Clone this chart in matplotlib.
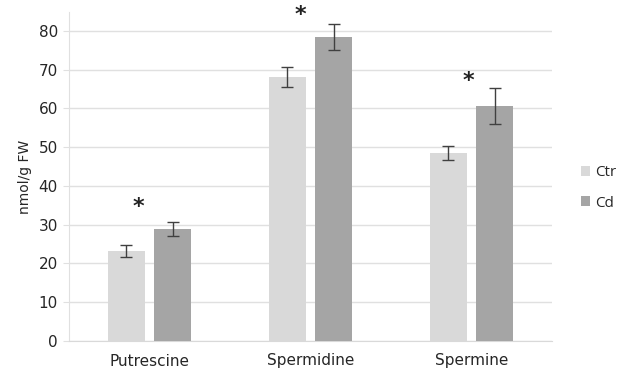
import matplotlib
matplotlib.use("Agg")
import matplotlib.pyplot as plt
import numpy as np

categories = ["Putrescine", "Spermidine", "Spermine"]
series = ["Ctr", "Cd"]
ctr_values = [23.3, 68.1, 48.5]
ctr_err = [1.5, 2.5, 1.8]
cd_values = [29.0, 78.5, 60.7]
cd_err = [1.8, 3.4, 4.6]
star_y = [34.6, 84.1, 67.1]
star_dx = [-0.07, -0.065, -0.02]
yticks = [0, 10, 20, 30, 40, 50, 60, 70, 80]

fig = plt.figure(figsize=(6.18, 3.76), dpi=100)
ax = fig.add_axes([69/618, 1 - 341/376, 483/618, (341 - 12)/376])

x = np.arange(len(categories))
off = 0.143
w = 0.224
ctr_col = "#d9d9d9"
cd_col = "#a5a5a5"
ecol = "#404040"
ax.bar(x - off, ctr_values, w, color=ctr_col, label=series[0], zorder=3)
ax.bar(x + off, cd_values, w, color=cd_col, label=series[1], zorder=3)
ax.errorbar(x - off, ctr_values, yerr=ctr_err, fmt="none", ecolor=ecol,
            elinewidth=1, capsize=4, capthick=1, zorder=4)
ax.errorbar(x + off, cd_values, yerr=cd_err, fmt="none", ecolor=ecol,
            elinewidth=1, capsize=4, capthick=1, zorder=4)

for xi, dx, sy in zip(x, star_dx, star_y):
    ax.text(xi + dx, sy, "*", ha="center", va="center", fontsize=16,
            fontweight="bold", color="#222222", family="DejaVu Sans")

ax.set_xlim(-0.5, 2.5)
ax.set_ylim(0, 84.9)
ax.set_yticks(yticks)
ax.set_xticks(x)
ax.set_xticklabels(categories)
ax.yaxis.grid(True, color="#e0e0e0", linewidth=1, zorder=0)
ax.set_axisbelow(True)
for s in ["top", "right"]:
    ax.spines[s].set_visible(False)
ax.spines["left"].set_color("#e0e0e0")
ax.spines["bottom"].set_color("#d9d9d9")
ax.tick_params(axis="y", length=4, color="#e0e0e0", labelsize=11,
               labelcolor="#262626", pad=4)
ax.tick_params(axis="x", length=0, labelsize=11, labelcolor="#262626", pad=9)
ax.set_ylabel("nmol/g FW", fontsize=10, color="#262626", labelpad=5)

leg = fig.legend(loc="center left", bbox_to_anchor=(581/618, 1 - 188/376),
                 bbox_transform=fig.transFigure, frameon=False,
                 prop={"family": "Open Sans", "size": 11}, handlelength=0.6,
                 handleheight=0.6, handletextpad=0.35, labelspacing=1.0,
                 borderaxespad=0, borderpad=0)
for t in leg.get_texts():
    t.set_color("#262626")

fig.savefig("out.png", dpi=100)
